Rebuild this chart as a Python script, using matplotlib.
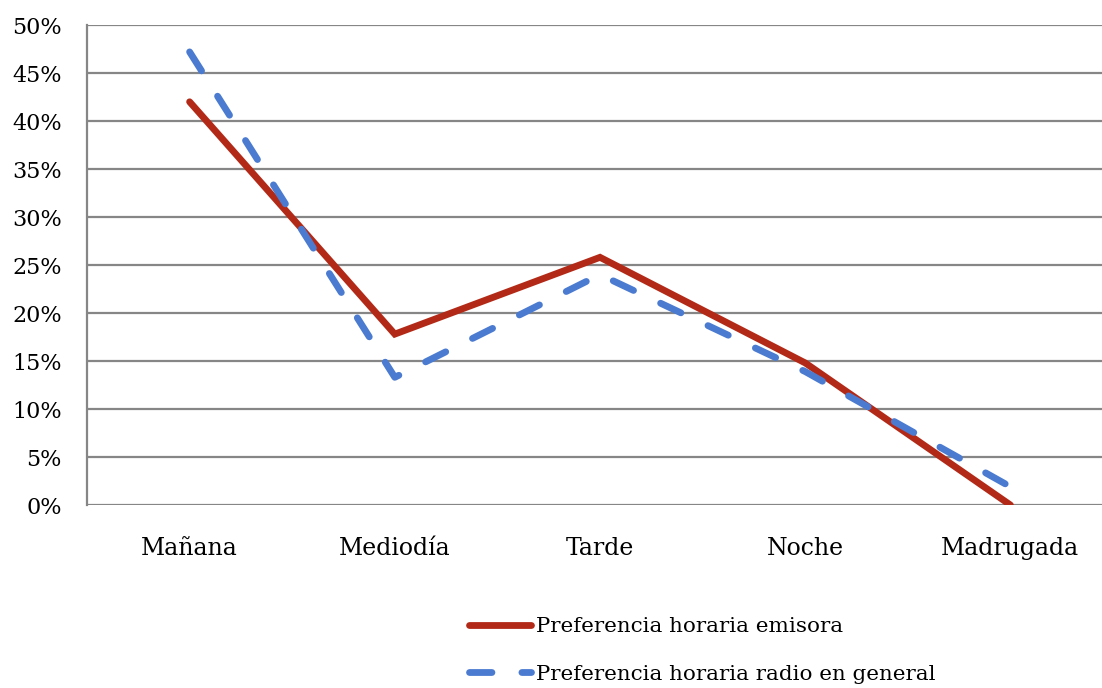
import matplotlib
matplotlib.use('Agg')
import matplotlib.pyplot as plt
import matplotlib.ticker as ticker


# ── data ──────────────────────────────────────────────────────────────────────

categorias = ['Mañana', 'Mediodía', 'Tarde', 'Noche', 'Madrugada']
emisora = [42.0, 17.8, 25.8, 14.8, 0.0]
radio_general = [47.2, 13.3, 24.0, 13.9, 1.9]

C_EMISORA = '#B22A17'
C_RADIO = '#4A7BD0'
C_GRID = '#868686'

plt.rcParams['font.family'] = ['DejaVu Serif']
plt.rcParams['font.size'] = 15.4

fig = plt.figure(figsize=(11.02, 6.88), dpi=100)
ax = fig.add_axes([87 / 1102, 183 / 688, 1026 / 1102, 480 / 688])

x = range(len(categorias))
ax.plot(x, emisora, color=C_EMISORA, lw=4.9, solid_capstyle='round',
        solid_joinstyle='miter', label='Preferencia horaria emisora', zorder=3)
ax.plot(x, radio_general, color=C_RADIO, lw=4.9, dashes=(3.3, 4.4),
        dash_capstyle='round', label='Preferencia horaria radio en general', zorder=3)

ax.set_xlim(-0.5, len(categorias) - 0.5)
ax.set_ylim(0, 50)
ax.set_xticks(list(x))
ax.set_xticklabels(categorias, fontsize=17)
ax.yaxis.set_major_locator(ticker.MultipleLocator(5))
ax.yaxis.set_major_formatter(ticker.FuncFormatter(lambda v, _: f'{v:.0f}%'))

ax.grid(True, axis='y', color=C_GRID, lw=1.6)
ax.set_axisbelow(True)
for s in ['top', 'right', 'bottom']:
    ax.spines[s].set_visible(False)
ax.spines['left'].set_color(C_GRID)
ax.spines['left'].set_linewidth(1.6)
ax.tick_params(axis='both', length=0)
ax.tick_params(axis='x', pad=23)
ax.tick_params(axis='y', pad=18, labelsize=16)

fig.legend(loc='upper left', bbox_to_anchor=(469 / 1102, 1 - 617 / 688),
           frameon=False, borderpad=0, borderaxespad=0, handlelength=2.9,
           handletextpad=0.25, labelspacing=1.35)

fig.savefig('out.png', dpi=100, facecolor='white')
